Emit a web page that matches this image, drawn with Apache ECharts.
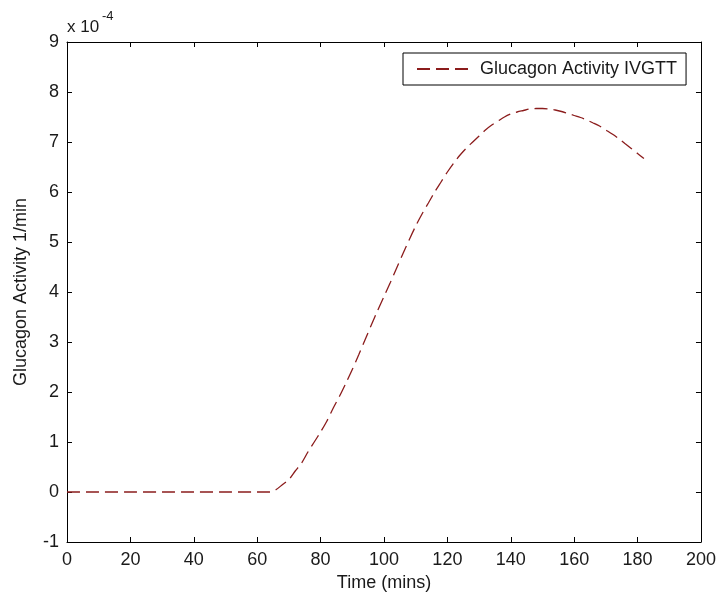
<!DOCTYPE html>
<html>
<head>
<meta charset="utf-8">
<script src="https://cdn.jsdelivr.net/npm/echarts@6/dist/echarts.min.js"></script>
<style>
html,body{margin:0;padding:0;background:#fff;}
#chart{width:719px;height:597px;}
</style>
</head>
<body>
<div id="chart"></div>
<script>
// Time (mins)
const timeMins = [0,10,20,30,40,50,60,64,66,68,70,72,74,76,78,80,82,84,86,88,90,92,94,96,98,100,102,104,106,108,110,112,114,116,118,120,122,124,126,128,130,132,134,136,138,140,142,144,146,148,150,152,154,156,158,160,162,164,166,168,170,172,174,176,178,180,182];
// Glucagon activity, in units of 1e-4 1/min
const glucagonActivity = [0,0,0,0,0,0,0,0,0.05,0.15,0.25,0.42,0.58,0.8,1.0,1.2,1.42,1.68,1.92,2.18,2.45,2.74,3.04,3.34,3.63,3.91,4.19,4.48,4.77,5.05,5.32,5.56,5.78,6.0,6.2,6.4,6.58,6.74,6.88,7.0,7.12,7.24,7.34,7.42,7.5,7.56,7.6,7.63,7.66,7.67,7.67,7.66,7.64,7.61,7.57,7.53,7.49,7.44,7.38,7.32,7.24,7.16,7.07,6.97,6.87,6.77,6.67];
const xTicks = [0,20,40,60,80,100,120,140,160,180,200];
const yTicks = [-1,0,1,2,3,4,5,6,7,8,9];
const seriesName = 'Glucagon Activity IVGTT';

const FONT = '"Liberation Sans", Arial, sans-serif';
const chart = echarts.init(document.getElementById('chart'), null, {renderer:'canvas'});
const axisLine = {show:true, onZero:false, lineStyle:{color:'#000', width:1}};
const tick = {show:true, inside:true, length:5, lineStyle:{color:'#000'}};
const label = {color:'#1a1a1a', fontFamily:FONT, fontSize:18};
const data = timeMins.map((t,i)=>[t, glucagonActivity[i]]);

chart.setOption({
  backgroundColor:'#fff',
  animation:false,
  grid:{left:67, right:16, top:42, bottom:54, containLabel:false},
  xAxis:[
    {type:'value', min:xTicks[0], max:xTicks[xTicks.length-1], interval:20, position:'bottom',
     axisLine:axisLine, axisTick:tick, splitLine:{show:false},
     axisLabel:Object.assign({margin:9}, label),
     name:'Time (mins)', nameLocation:'middle', nameGap:32,
     nameTextStyle:{color:'#1a1a1a', fontFamily:FONT, fontSize:18}},
    {type:'value', min:0, max:200, interval:20, position:'top',
     axisLine:axisLine, axisTick:tick, axisLabel:{show:false}, splitLine:{show:false}}
  ],
  yAxis:[
    {type:'value', min:yTicks[0], max:yTicks[yTicks.length-1], interval:1, position:'left',
     axisLine:axisLine, axisTick:tick, splitLine:{show:false},
     axisLabel:Object.assign({margin:8}, label),
     name:'Glucagon Activity 1/min', nameLocation:'middle', nameGap:37, nameRotate:90,
     nameTextStyle:{color:'#1a1a1a', fontFamily:FONT, fontSize:18}},
    {type:'value', min:-1, max:9, interval:1, position:'right',
     axisLine:axisLine, axisTick:tick, axisLabel:{show:false}, splitLine:{show:false}}
  ],
  legend:{
    left:403, top:53, orient:'horizontal',
    borderColor:'#000', borderWidth:1, borderRadius:0,
    padding:[7,9,7,13], itemWidth:56, itemHeight:18, itemGap:6,
    itemStyle:{opacity:0},
    textStyle:{color:'#1a1a1a', fontFamily:FONT, fontSize:18, padding:[0,0,0,2]},
    data:[{name:seriesName}]
  },
  graphic:[
    {type:'text', left:67, top:19, style:{text:'x 10', font:'17px '+FONT, fill:'#1a1a1a'}},
    {type:'text', left:102, top:10, style:{text:'-4', font:'13px '+FONT, fill:'#1a1a1a'}}
  ],
  series:[{
    name:seriesName, type:'line', data:data, symbol:'none', smooth:0.3,
    lineStyle:{color:'#8b1c1c', width:1.3, type:[13,6]},
    itemStyle:{color:'#8b1c1c'}
  }]
});
</script>
</body>
</html>
